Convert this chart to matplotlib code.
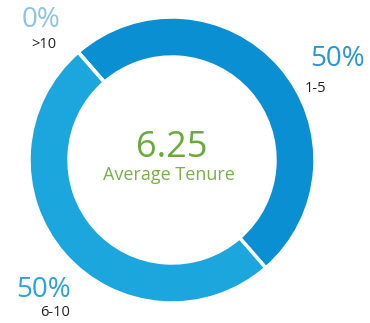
import matplotlib
matplotlib.use("Agg")
from matplotlib import pyplot as plt

# tenure groups and their share
groups = ["1-5", "6-10", ">10"]
shares = [50, 50, 0]
colors = ["#0b8fd3", "#1ba6dd", "#7fc0e8"]
average_tenure = "6.25"

plt.rcParams["font.family"] = ["Open Sans", "DejaVu Sans"]

fig = plt.figure(figsize=(3.7, 3.23), dpi=100)
ax = fig.add_axes([0, 0, 1, 1])

# donut, clockwise from the top-left gap
ax.pie(shares, colors=colors, startangle=131, counterclock=False,
       center=(172, 163), radius=143, frame=True,
       wedgeprops=dict(width=40, edgecolor="white", linewidth=2.5))
ax.set_xlim(0, 370)
ax.set_ylim(0, 323)
ax.set_aspect("equal")
ax.axis("off")

# center text
ax.text(172, 175, average_tenure, ha="center", va="center",
        fontsize=26, color="#6aaa3c")
ax.text(169, 148, "Average Tenure", ha="center", va="center",
        fontsize=13, color="#78b04a")

# labels per group
label_pos = {"1-5": (337, 264, 305, 235),
             "6-10": (43, 33, 55, 10),
             ">10": (41, 303, 44, 279)}
pct_colors = {"1-5": "#2996d6", "6-10": "#2aa2da", ">10": "#8cc3e6"}
for g, s in zip(groups, shares):
    px, py, lx, ly = label_pos[g]
    ax.text(px, py, f"{s}%", ha="center", va="center",
            fontsize=20, color=pct_colors[g])
    ax.text(lx, ly, g, ha="center" if g != "1-5" else "left", va="center",
            fontsize=10.5, color="#222222")

fig.savefig("out.png", dpi=100)
